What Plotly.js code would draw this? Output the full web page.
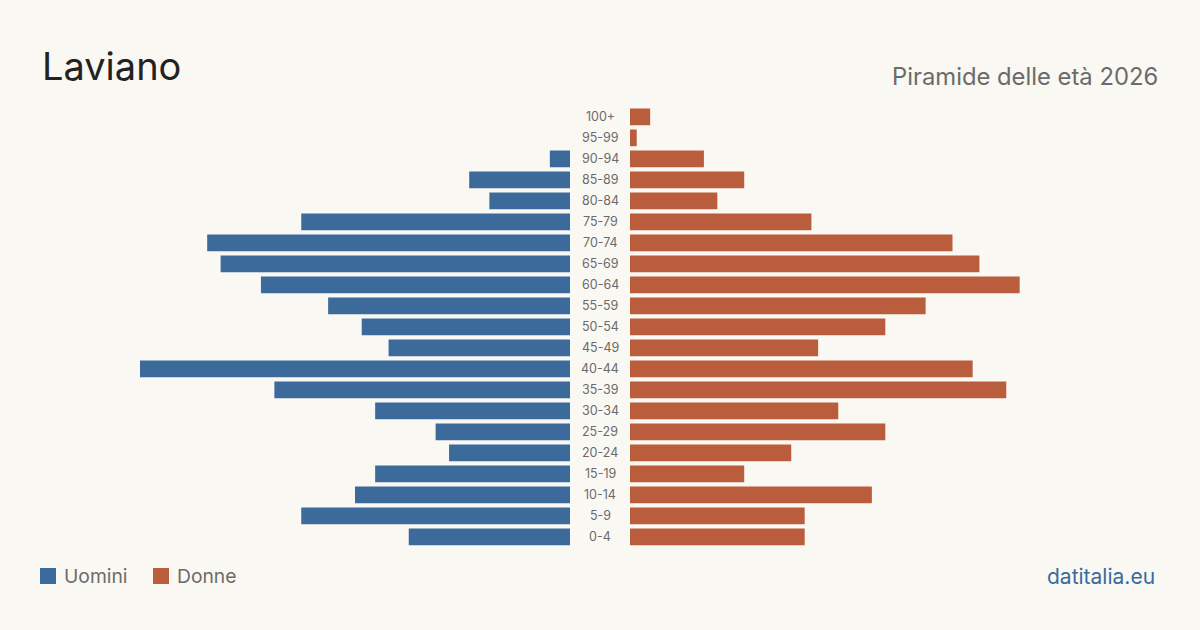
<!DOCTYPE html>
<html><head><meta charset="utf-8">
<script src="https://cdn.plot.ly/plotly-3.0.1.min.js"></script>
<style>html,body{margin:0;padding:0;background:#faf8f3;}#chart{width:1200px;height:630px;}</style>
</head><body><div id="chart"></div>
<script>
const ageGroups = ["0-4","5-9","10-14","15-19","20-24","25-29","30-34","35-39","40-44","45-49","50-54","55-59","60-64","65-69","70-74","75-79","80-84","85-89","90-94","95-99","100+"];
const men   = [24,40,32,29,18,20,29,44,64,27,31,36,46,52,54,40,12,15,3,0,0];
const women = [26,26,36,17,24,38,31,56,51,28,38,44,58,52,48,27,13,17,11,1,3];
const title = "Laviano";
const subtitle = "Piramide delle età 2026";
const legendLabels = ["Uomini","Donne"];
const source = "datitalia.eu";

const W = 1200, H = 630;
const blue = "#3b6a9b", orange = "#b95d3c";
const font = "Inter, 'Noto Sans', sans-serif";
const px = x => x / W, py = y => 1 - y / H;
const maxV = 64;

const traces = [
  {type:"bar", orientation:"h", y:ageGroups, x:men, xaxis:"x", yaxis:"y", marker:{color:blue}, name:legendLabels[0], hoverinfo:"x+y"},
  {type:"bar", orientation:"h", y:ageGroups, x:women, xaxis:"x2", yaxis:"y2", marker:{color:orange}, name:legendLabels[1], hoverinfo:"x+y"}
];

const yCommon = {type:"category", categoryorder:"array", categoryarray:ageGroups, range:[-0.5,20.5], domain:[py(547.3), py(106.3)], showticklabels:false, showgrid:false, zeroline:false, showline:false, ticks:""};
const xCommon = {showticklabels:false, showgrid:false, zeroline:false, showline:false, ticks:""};

const annotations = ageGroups.map(g => ({text:g, x:0.5, xref:"paper", y:g, yref:"y", showarrow:false, xanchor:"center", yanchor:"middle", font:{family:font, size:12.5, color:"#6b6b6b"}}));
annotations.push({text:title, x:px(40), y:py(66), xref:"paper", yref:"paper", xanchor:"left", yanchor:"middle", showarrow:false, font:{family:font, size:38, color:"#222222"}});
annotations.push({text:subtitle, x:px(1160), y:py(76), xref:"paper", yref:"paper", xanchor:"right", yanchor:"middle", showarrow:false, font:{family:font, size:23.8, color:"#6b6b6b"}});
annotations.push({text:legendLabels[0], x:px(62), y:py(576), xref:"paper", yref:"paper", xanchor:"left", yanchor:"middle", showarrow:false, font:{family:font, size:19.3, color:"#6b6b6b"}});
annotations.push({text:legendLabels[1], x:px(175), y:py(576), xref:"paper", yref:"paper", xanchor:"left", yanchor:"middle", showarrow:false, font:{family:font, size:19.3, color:"#6b6b6b"}});
annotations.push({text:source, x:px(1157), y:py(576), xref:"paper", yref:"paper", xanchor:"right", yanchor:"middle", showarrow:false, font:{family:font, size:21, color:blue}});

const shapes = [
  {type:"rect", xref:"paper", yref:"paper", x0:px(40), x1:px(56), y0:py(584), y1:py(568), fillcolor:blue, line:{width:0}},
  {type:"rect", xref:"paper", yref:"paper", x0:px(153), x1:px(169), y0:py(584), y1:py(568), fillcolor:orange, line:{width:0}}
];

const layout = {
  width:W, height:H, margin:{l:0,r:0,t:0,b:0},
  paper_bgcolor:"#faf8f3", plot_bgcolor:"rgba(0,0,0,0)",
  showlegend:false, bargap:0.2,
  xaxis:Object.assign({}, xCommon, {domain:[px(140), px(570)], range:[maxV,0], anchor:"y"}),
  xaxis2:Object.assign({}, xCommon, {domain:[px(630), px(1060)], range:[0,maxV], anchor:"y2"}),
  yaxis:Object.assign({}, yCommon, {anchor:"x"}),
  yaxis2:Object.assign({}, yCommon, {anchor:"x2"}),
  annotations, shapes
};
Plotly.newPlot("chart", traces, layout, {displayModeBar:false, staticPlot:true});
</script></body></html>
